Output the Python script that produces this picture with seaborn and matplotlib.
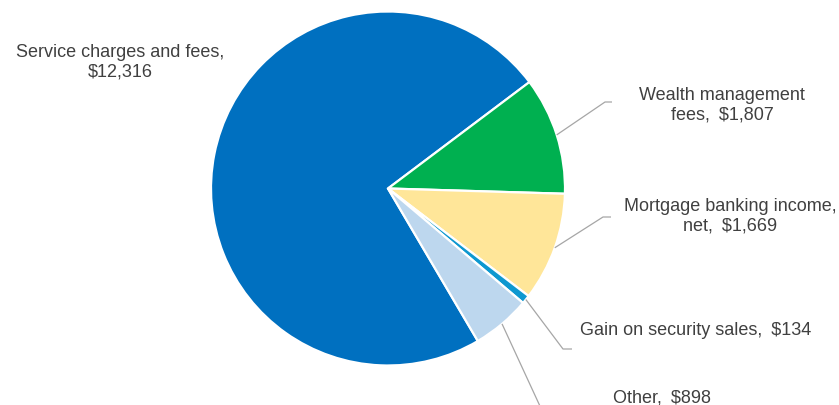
import numpy as np
import matplotlib
matplotlib.use("Agg")
import matplotlib.pyplot as plt
import seaborn as sns

categories = ["Service charges and fees", "Wealth management\nfees", "Mortgage banking income,\nnet",
              "Gain on security sales", "Other"]
values = [12316, 1807, 1669, 134, 898]
value_labels = ["$12,316", "$1,807", "$1,669", "$134", "$898"]
colors = ["#0070C0", "#00B050", "#FFE699", "#0E98D0", "#BDD7EE"]

sns.set_theme(style="white")
plt.rcParams['font.family'] = ['Liberation Sans', 'DejaVu Sans']

W, H = 839, 406
fig = plt.figure(figsize=(W / 100, H / 100), dpi=100)
ax = fig.add_axes([0, 0, 1, 1])
ax.set_xlim(0, W)
ax.set_ylim(0, H)
ax.set_aspect('equal')
ax.axis('off')

cx, cy, R = 388, H - 189.5, 177
startangle = -59.5
wedges, _ = ax.pie(values, colors=colors, startangle=startangle, counterclock=False,
                   center=(cx, cy), radius=R, frame=True,
                   wedgeprops=dict(edgecolor="white", linewidth=1.6))
ax.set_xlim(0, W)
ax.set_ylim(0, H)
ax.axis('off')

# label layout: (text x, text y in pixel-from-top, ha, elbow point, elbow end)
layout = [
    dict(tx=120, ty=62.5, ha="center", elbow=None),
    dict(tx=722, ty=105, ha="center", elbow=((605, 103), (612, 103))),
    dict(tx=730, ty=216, ha="center", elbow=((603, 218), (611, 218))),
    dict(tx=580, ty=331, ha="left", elbow=((563, 350), (572, 350))),
    dict(tx=613, ty=398, ha="left", elbow=((545, 418), (552, 418))),
]

text_color = "#404040"
line_color = "#A6A6A6"
for w, cat, vl, lay in zip(wedges, categories, value_labels, layout):
    if "\n" in cat:
        first, second = cat.split("\n")
        label = f"{first}\n{second},\u2002{vl}"
    elif lay["ha"] == "center":
        label = f"{cat},\n{vl}"
    else:
        label = f"{cat},\u2002{vl}"
    ax.text(lay["tx"], H - lay["ty"], label, ha=lay["ha"], va="center",
            fontsize=13, color=text_color, linespacing=1.2)
    if lay["elbow"] is not None:
        mid = np.deg2rad((w.theta1 + w.theta2) / 2)
        px, py = cx + R * np.cos(mid), cy + R * np.sin(mid)
        (ex, ey), (fx, fy) = lay["elbow"]
        ax.plot([px, ex, fx], [py, H - ey, H - fy], color=line_color, lw=0.9,
                solid_capstyle="butt")

fig.savefig("out.png", dpi=100)
